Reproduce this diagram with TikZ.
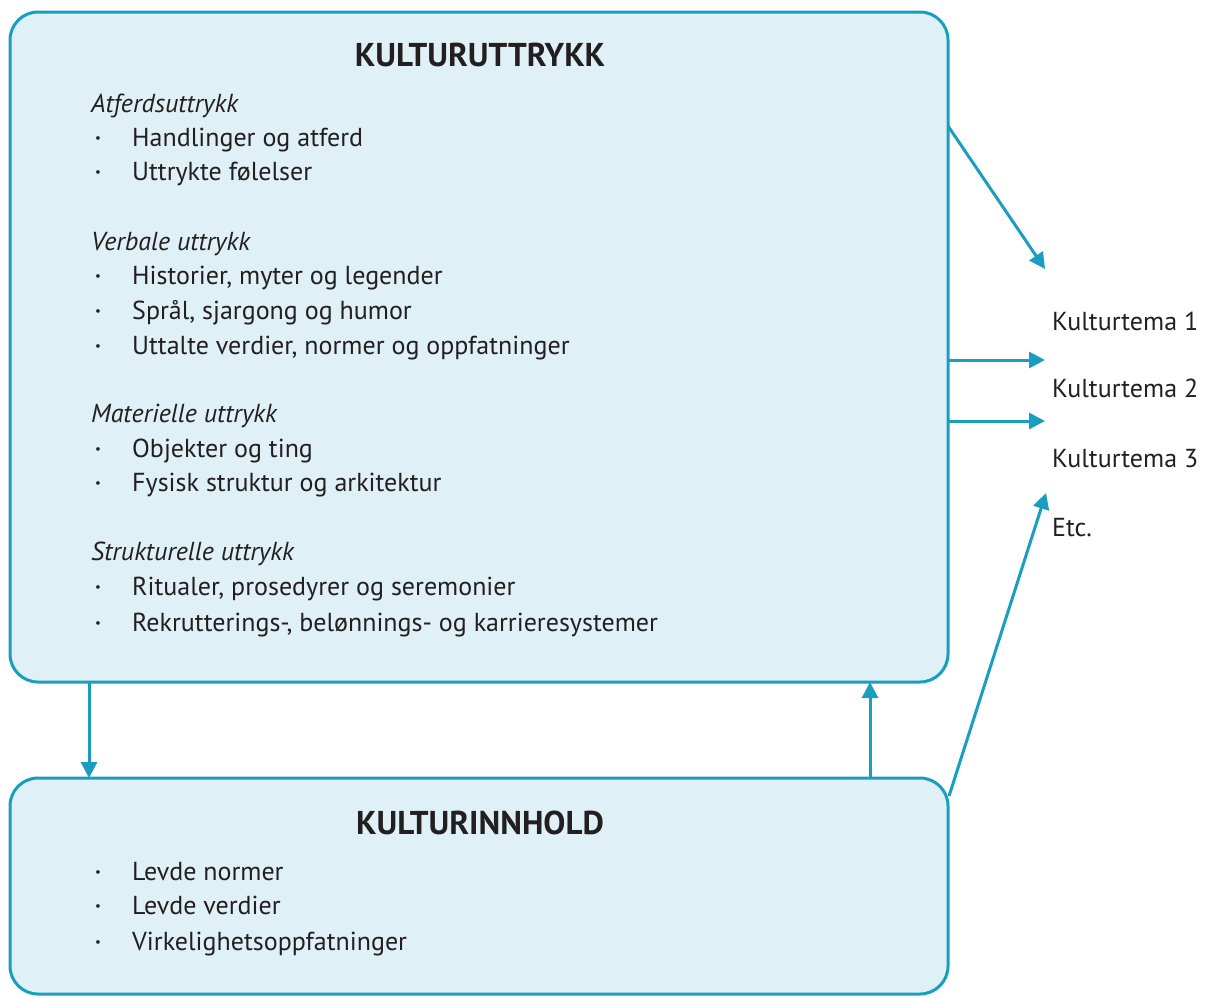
\documentclass[tikz,border=0pt]{standalone}
\usepackage{fontspec}
\setmainfont{PT Sans}
\usetikzlibrary{arrows.meta,calc}
\definecolor{edge}{HTML}{1A9EC0}
\definecolor{boxfill}{HTML}{DFF0F7}
\definecolor{ink}{HTML}{231F20}
\tikzset{
  x=1pt, y=-1pt,
  panel/.style={draw=edge, line width=3pt, fill=boxfill, rounded corners=28pt},
  txt/.style={anchor=base west, inner sep=0pt, text=ink, font=\fontsize{26}{30}\selectfont},
  head/.style={txt, font=\fontsize{26}{30}\selectfont\itshape},
  ttl/.style={anchor=base, inner sep=0pt, text=ink, font=\fontsize{33}{38}\selectfont\bfseries},
  dot/.style={anchor=base, inner sep=0pt, text=ink, font=\fontsize{13}{16}\selectfont},
  link/.style={draw=edge, line width=3pt, -{Triangle[length=16pt,width=16pt]}},
}
\begin{document}
\begin{tikzpicture}
\useasboundingbox (0,0) rectangle (1206,997);
% panels
\draw[panel] (10,12) rectangle (948,682);
\draw[panel] (10,778) rectangle (948,994);
% top panel text
\node[ttl] (t1) at (480,66) {KULTURUTTRYKK};
\node[head] (h1) at (91,112) {Atferdsuttrykk};
\node[dot] (d1) at (98,142) {•}; \node[txt] (a1) at (132,146) {Handlinger og atferd};
\node[dot] (d2) at (98,176) {•}; \node[txt] (a2) at (132,180) {Uttrykte følelser};
\node[head] (h2) at (91,250) {Verbale uttrykk};
\node[dot] (d3) at (98,280) {•}; \node[txt] (a3) at (132,284) {Historier, myter og legender};
\node[dot] (d4) at (98,315) {•}; \node[txt] (a4) at (132,319) {Språl, sjargong og humor};
\node[dot] (d5) at (98,350) {•}; \node[txt] (a5) at (132,354) {Uttalte verdier, normer og oppfatninger};
\node[head] (h3) at (91,422) {Materielle uttrykk};
\node[dot] (d6) at (98,453) {•}; \node[txt] (a6) at (132,457) {Objekter og ting};
\node[dot] (d7) at (98,487) {•}; \node[txt] (a7) at (132,491) {Fysisk struktur og arkitektur};
\node[head] (h4) at (91,560) {Strukturelle uttrykk};
\node[dot] (d8) at (98,591) {•}; \node[txt] (a8) at (132,595) {Ritualer, prosedyrer og seremonier};
\node[dot] (d9) at (98,627) {•}; \node[txt] (a9) at (132,631) {Rekrutterings-, belønnings- og karrieresystemer};
% bottom panel text
\node[ttl] (t2) at (480,834) {KULTURINNHOLD};
\node[dot] (e1) at (98,876) {•}; \node[txt] (b1) at (132,880) {Levde normer};
\node[dot] (e2) at (98,910) {•}; \node[txt] (b2) at (132,914) {Levde verdier};
\node[dot] (e3) at (98,946) {•}; \node[txt] (b3) at (132,950) {Virkelighetsoppfatninger};
% right labels
\node[txt] (k1) at (1052,330) {Kulturtema 1};
\node[txt] (k2) at (1052,397) {Kulturtema 2};
\node[txt] (k3) at (1052,467) {Kulturtema 3};
\node[txt] (k4) at (1052,536) {Etc.};
% arrow endpoints
\coordinate (s1) at (948,126);
\coordinate (e1a) at (1045,269);
\coordinate (s2) at (948,360);
\coordinate (e2a) at (1045,360);
\coordinate (s3) at (948,421);
\coordinate (e3a) at (1045,421);
\coordinate (s4) at (949,796);
\coordinate (e4a) at (1046,493);
\coordinate (dn1) at (89,682);
\coordinate (dn2) at (89,778);
\coordinate (up1) at (870,778);
\coordinate (up2) at (870,682);
% connectors
\draw[link] (s1) -- (e1a);
\draw[link] (s2) -- (e2a);
\draw[link] (s3) -- (e3a);
\draw[link] (s4) -- (e4a);
\draw[link] (dn1) -- (dn2);
\draw[link] (up1) -- (up2);
\end{tikzpicture}
\end{document}
